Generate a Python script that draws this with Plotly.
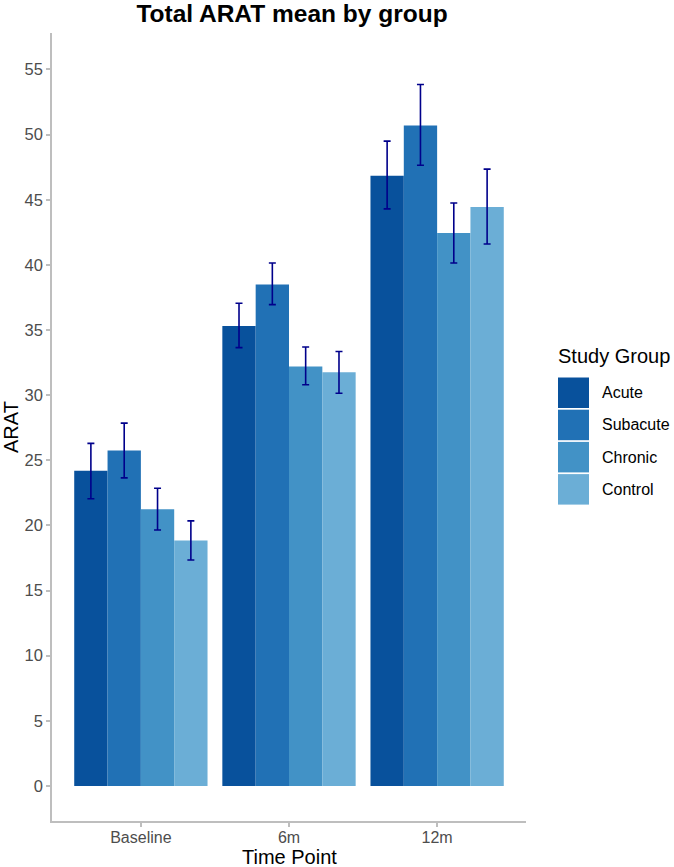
import plotly.graph_objects as go

time_points = ["Baseline", "6m", "12m"]
groups = ["Acute", "Subacute", "Chronic", "Control"]
colors = ["#08519C", "#2171B5", "#4292C6", "#6BAED6"]

acute_mean = [24.2, 35.3, 46.85]
acute_upper = [26.3, 37.05, 49.5]
acute_lower = [22.05, 33.65, 44.3]

subacute_mean = [25.75, 38.5, 50.7]
subacute_upper = [27.85, 40.15, 53.85]
subacute_lower = [23.65, 36.95, 47.65]

chronic_mean = [21.25, 32.2, 42.45]
chronic_upper = [22.85, 33.7, 44.75]
chronic_lower = [19.65, 30.8, 40.15]

control_mean = [18.85, 31.75, 44.45]
control_upper = [20.35, 33.35, 47.35]
control_lower = [17.35, 30.15, 41.6]

y_ticks = [0, 5, 10, 15, 20, 25, 30, 35, 40, 45, 50, 55]

series = [
    (acute_mean, acute_upper, acute_lower),
    (subacute_mean, subacute_upper, subacute_lower),
    (chronic_mean, chronic_upper, chronic_lower),
    (control_mean, control_upper, control_lower),
]

FONT = "Liberation Sans, Arial, sans-serif"

fig = go.Figure()
for name, color, (m, up, lo) in zip(groups, colors, series):
    fig.add_trace(go.Bar(
        x=time_points, y=m, name=name,
        marker=dict(color=color, line=dict(width=0)),
        error_y=dict(type="data", symmetric=False,
                     array=[u - v for u, v in zip(up, m)],
                     arrayminus=[v - l for v, l in zip(m, lo)],
                     color="#00008B", thickness=1.6, width=3.5),
        showlegend=False,
    ))

# custom ggplot-style legend with large keys
W, H = 674, 867
L, R, T, B = 52, 526, 33, 821
def px_x(x):
    return (x - L) / (R - L)
def py(y):
    return (B - y) / (B - T)

shapes = []
annotations = [
    dict(x=px_x(556), y=py(356), xref="paper", yref="paper",
         text="Study Group", showarrow=False, xanchor="left", yanchor="middle",
         font=dict(family=FONT, size=20, color="#000000")),
    dict(x=px_x(289), y=py(857), xref="paper", yref="paper",
         text="Time Point", showarrow=False, xanchor="center", yanchor="middle",
         font=dict(family=FONT, size=20, color="#000000")),
    dict(x=px_x(11), y=py(427), xref="paper", yref="paper", textangle=-90,
         text="ARAT", showarrow=False, xanchor="center", yanchor="middle",
         font=dict(family=FONT, size=20, color="#000000")),
]
for i, (name, color) in enumerate(zip(groups, colors)):
    y0 = 377.5 + i * 32.2
    y1 = y0 + 30.5
    shapes.append(dict(type="rect", xref="paper", yref="paper",
                       x0=px_x(558), x1=px_x(589), y0=py(y1), y1=py(y0),
                       fillcolor=color, line=dict(width=0)))
    annotations.append(dict(x=px_x(600), y=py((y0 + y1) / 2), xref="paper", yref="paper",
                            text=name, showarrow=False, xanchor="left", yanchor="middle",
                            font=dict(family=FONT, size=16, color="#000000")))

fig.update_layout(
    width=W, height=H,
    margin=dict(l=L, r=W - R, t=T, b=H - B),
    barmode="group", bargap=0.1, bargroupgap=0,
    plot_bgcolor="white", paper_bgcolor="white",
    title=dict(text="<b>Total ARAT mean by group</b>", x=292 / W, xref="container",
               xanchor="center", y=1 - 13 / H, yanchor="middle",
               font=dict(family=FONT, size=24.5, color="#000000")),
    xaxis=dict(range=[-0.6, 2.6], showline=True, linecolor="#BEBEBE", linewidth=1.5,
               ticks="outside", ticklen=4, tickcolor="#BEBEBE", tickwidth=1.5,
               ticklabelstandoff=-3,
               tickfont=dict(family=FONT, size=16, color="#4D4D4D"),
               showgrid=False, zeroline=False, automargin=False),
    yaxis=dict(range=[-2.69, 57.8], showline=True, linecolor="#BEBEBE", linewidth=1.5,
               ticks="outside", ticklen=4, tickcolor="#BEBEBE", tickwidth=1.5,
               tickvals=y_ticks, ticktext=[str(t) for t in y_ticks],
               tickfont=dict(family=FONT, size=16.5, color="#4D4D4D"),
               showgrid=False, zeroline=False, automargin=False),
    shapes=shapes, annotations=annotations,
    font=dict(family=FONT),
)

fig.write_html("out.html", config={"displayModeBar": False},
               post_script="document.body.style.margin='0';document.body.style.padding='0';document.body.style.overflow='hidden';")
